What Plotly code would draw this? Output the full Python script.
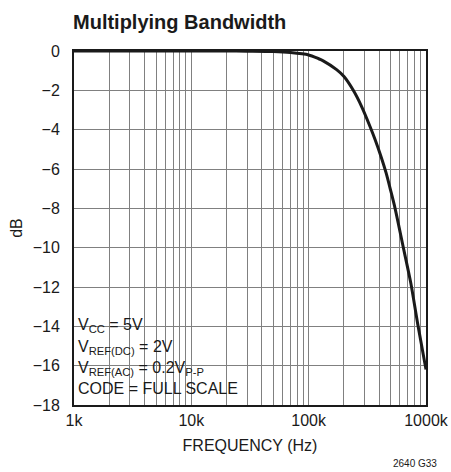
import plotly.graph_objects as go

# Data (frequency in kHz, gain in dB)
freq_khz = [1, 5, 10, 20, 30, 50, 70, 100, 120, 133, 173, 200, 240, 284, 334, 368, 410, 457, 500, 545, 641, 742, 851, 1000]
gain_db = [0, 0, 0, 0, -0.01, -0.03, -0.08, -0.2, -0.38, -0.5, -0.95, -1.3, -2.0, -2.85, -3.85, -4.5, -5.3, -6.2, -7.1, -8.0, -10.0, -11.8, -13.9, -16.2]
freq_hz = [f * 1000 for f in freq_khz]

x_tick_vals = [m * 10 ** e for e in (3, 4, 5) for m in range(1, 10)] + [1e6]
x_tick_text = {1e3: "1k", 1e4: "10k", 1e5: "100k", 1e6: "1000k"}
y_tick_vals = list(range(0, -19, -2))
y_tick_text = ["0" if v == 0 else "\u2212" + str(-v) for v in y_tick_vals]

legend_lines = [
    "V<sub>CC</sub> = 5V",
    "V<sub>REF(DC)</sub> = 2V",
    "V<sub>REF(AC)</sub> = 0.2V<sub>P-P</sub>",
    "CODE = FULL SCALE",
]

FONT = "Liberation Sans, Arial, sans-serif"

fig = go.Figure()
fig.add_trace(go.Scatter(
    x=freq_hz, y=gain_db, mode="lines",
    line=dict(color="#1a1a1a", width=3, shape="spline", smoothing=0.8),
    showlegend=False, hoverinfo="skip",
))

W, H = 451, 472
L, R, T, B = 74, 25, 51, 67
pw, ph = W - L - R, H - T - B

fig.update_layout(
    width=W, height=H,
    margin=dict(l=L, r=R, t=T, b=B),
    paper_bgcolor="white", plot_bgcolor="white",
    font=dict(family=FONT, size=16, color="#1a1a1a"),
    title=dict(text="<b>Multiplying Bandwidth</b>", x=73 / W, xanchor="left",
               y=1 - 22 / H, yanchor="middle", font=dict(size=20, family=FONT)),
    xaxis=dict(
        type="log", range=[3, 6],
        tickvals=x_tick_vals,
        ticktext=[x_tick_text.get(v, "") for v in x_tick_vals],
        showgrid=True, gridcolor="#808080", gridwidth=1.2,
        showline=True, linecolor="#1a1a1a", linewidth=2, mirror=True,
        ticks="", zeroline=False, automargin=False,
        title=dict(text="FREQUENCY (Hz)", standoff=12, font=dict(size=16)),
        tickfont=dict(size=16),
    ),
    yaxis=dict(
        range=[-18, 0],
        tickvals=y_tick_vals, ticktext=y_tick_text,
        showgrid=True, gridcolor="#808080", gridwidth=1.2,
        showline=True, linecolor="#1a1a1a", linewidth=2, mirror=True,
        ticks="", zeroline=False, ticklabelstandoff=9, automargin=False,
        title=dict(text="dB", standoff=6, font=dict(size=16)),
        tickfont=dict(size=16),
    ),
)

# white box behind the conditions text (covers grid)
fig.add_shape(type="rect", xref="paper", yref="paper",
              x0=0.004, x1=(241 - L) / pw, y0=0.004, y1=(405 - 313) / ph,
              fillcolor="white", line=dict(width=0), layer="between")

line_y = [325, 347, 368, 388]
for txt, py in zip(legend_lines, line_y):
    fig.add_annotation(text=txt, xref="paper", yref="paper",
                       x=(76 - L) / pw, y=(405 - py) / ph,
                       xanchor="left", yanchor="middle", showarrow=False,
                       font=dict(size=16, family=FONT))

fig.add_annotation(text="2640 G33", xref="paper", yref="paper",
                   x=(415 - L) / pw, y=-(463 - 405) / ph,
                   xanchor="center", yanchor="middle", showarrow=False,
                   font=dict(size=10, family=FONT))

fig.write_html("out.html", config={"displayModeBar": False},
               post_script="document.body.style.margin='0';document.body.style.overflow='hidden';")
